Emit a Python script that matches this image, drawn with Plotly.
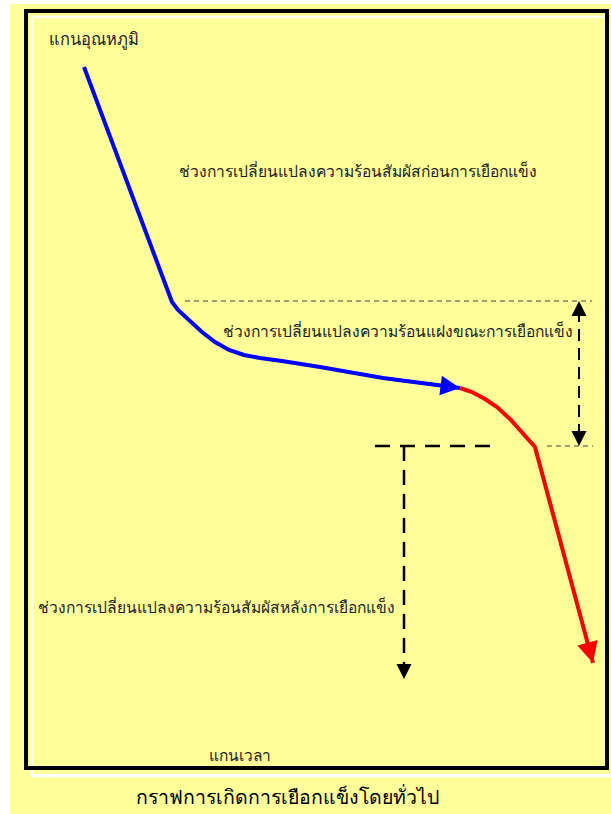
import plotly.graph_objects as go

# ---- data (pixel-space diagram coordinates) ----
blue_x = [84, 172, 178, 189, 202, 215, 229, 244, 260, 282, 320, 383, 460]
blue_y = [67, 302, 310, 320, 332, 342, 350, 355, 358, 361, 367, 378, 388]
red_x = [460, 472, 485, 497, 510, 522, 535, 593]
red_y = [388, 392, 399, 407, 419, 432, 447, 663]

labels = {
    "yaxis": "แกนอุณหภูมิ",
    "xaxis": "แกนเวลา",
    "before": "ช่วงการเปลี่ยนแปลงความร้อนสัมผัสก่อนการเยือกแข็ง",
    "during": "ช่วงการเปลี่ยนแปลงความร้อนแฝงขณะการเยือกแข็ง",
    "after": "ช่วงการเปลี่ยนแปลงความร้อนสัมผัสหลังการเยือกแข็ง",
    "title": "กราฟการเกิดการเยือกแข็งโดยทั่วไป",
}

W, H = 611, 814
YELLOW = "#FFFF99"
FONT = "Noto Sans, DejaVu Sans, sans-serif"

fig = go.Figure()

# curves
fig.add_trace(go.Scatter(x=blue_x, y=blue_y, mode="lines",
                         line=dict(color="#0000FF", width=4), hoverinfo="skip"))
fig.add_trace(go.Scatter(x=red_x, y=red_y, mode="lines",
                         line=dict(color="#FF0000", width=4), hoverinfo="skip"))

# dashed guide lines
def dline(xs, ys, color, width, dash):
    fig.add_trace(go.Scatter(x=xs, y=ys, mode="lines", hoverinfo="skip",
                             line=dict(color=color, width=width, dash=dash)))

dline([185, 592], [301, 301], "#444444", 1, "5px,4px")
dline([547, 593], [446, 446], "#444444", 1, "5px,4px")
dline([579, 579], [310, 437], "#000000", 2, "12px,7px")
dline([375, 493], [446, 446], "#000000", 2.5, "15px,10px")
dline([404, 404], [446, 668], "#000000", 2.5, "15px,9px")

shapes = [
    dict(type="rect", xref="x", yref="y", x0=10, y0=4, x1=611, y1=814,
         fillcolor=YELLOW, line=dict(width=0), layer="below"),
    dict(type="line", xref="x", yref="y", x0=32, y0=17, x1=604, y1=17,
         line=dict(color="white", width=2.5), layer="below"),
    dict(type="line", xref="x", yref="y", x0=32, y0=17, x1=32, y1=776,
         line=dict(color="white", width=2.5), layer="below"),
    dict(type="line", xref="x", yref="y", x0=32, y0=775.5, x1=611, y1=775.5,
         line=dict(color="white", width=3.5), layer="below"),
    dict(type="rect", xref="x", yref="y", x0=26, y0=11, x1=607, y1=768,
         line=dict(color="black", width=4), layer="below"),
]

ann = []
def arrow(tip, tail, color, width, size):
    ann.append(dict(x=tip[0], y=tip[1], ax=tail[0], ay=tail[1],
                    xref="x", yref="y", axref="x", ayref="y", text="",
                    showarrow=True, arrowhead=2, arrowsize=size,
                    arrowwidth=width, arrowcolor=color))

arrow((blue_x[-1], blue_y[-1]), (blue_x[-2], blue_y[-2]), "#0000FF", 3, 1.3)
arrow((red_x[-1], red_y[-1]), (red_x[-2], red_y[-2]), "#FF0000", 3, 1.4)
arrow((579, 301), (579, 320), "black", 2, 1.5)
arrow((579, 446), (579, 427), "black", 2, 1.5)
arrow((404, 679), (404, 662), "black", 2, 1.5)

def text(key, x, y, size, anchor="left", color="#222222"):
    ann.append(dict(x=x, y=y, xref="x", yref="y", text=labels[key],
                    showarrow=False, xanchor=anchor, yanchor="middle",
                    font=dict(family=FONT, size=size, color=color)))

text("yaxis", 47, 38, 16.5)
text("before", 177, 171, 15.6)
text("during", 221, 331, 15.6)
text("after", 36, 607, 15.6)
text("xaxis", 207, 755, 15.5)
text("title", 287, 796, 19.5, anchor="center", color="#000000")

fig.update_layout(
    width=W, height=H, margin=dict(l=0, r=0, t=0, b=0),
    paper_bgcolor="white", plot_bgcolor="white", showlegend=False,
    shapes=shapes, annotations=ann,
    xaxis=dict(range=[0, W], visible=False, fixedrange=True),
    yaxis=dict(range=[H, 0], visible=False, fixedrange=True),
)

fig.write_html(
    "out.html",
    config={"displayModeBar": False},
    post_script="document.body.style.margin='0px';"
                "document.body.style.overflow='hidden';"
                "document.documentElement.style.overflow='hidden';",
)
